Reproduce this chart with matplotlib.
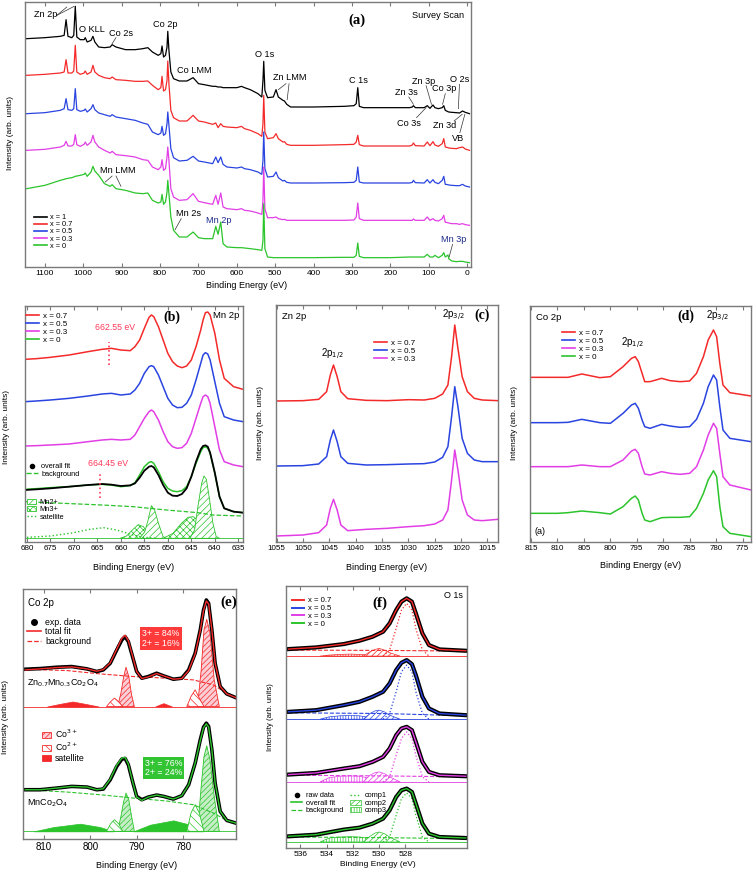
import matplotlib
matplotlib.use("Agg")
import matplotlib.pyplot as plt
from matplotlib.lines import Line2D
from matplotlib.patches import Patch

plt.rcParams["font.family"] = ["Liberation Sans", "DejaVu Sans"]
plt.rcParams["hatch.linewidth"] = 0.5

W, H = 756, 874
RED, BLUE, MAG, GREEN = "#f42a2a", "#2a44e0", "#e23ee6", "#2cc42c"
SPINE = "#7a7a7a"
SERIF = ["Liberation Serif", "DejaVu Serif"]

# ---------------- (a) survey scan ----------------
surv_be = [1148, 1100, 1060, 1050, 1045, 1040, 1030, 1025, 1021, 1017,
           1008, 998, 995, 990, 980, 975, 970, 960, 945, 930,
           925, 915, 890, 865, 845, 832, 820, 805, 798, 795,
           791, 786, 782, 780, 777, 772, 765, 750, 730, 714,
           700, 685, 663, 655, 649, 642, 636, 626, 600, 588,
           580, 565, 545, 535, 532, 530, 527, 520, 505, 498,
           492, 480, 476, 470, 460, 400, 320, 295, 289, 285,
           281, 270, 200, 150, 143, 140, 135, 112, 104, 97,
           89, 84, 75, 65, 61, 57, 50, 48, 40, 28,
           20, 12, 5, -6]
surv_x1 = [685, 688, 692, 695, 742, 692, 688, 695, 782, 690,
           682, 682, 688, 675, 680, 692, 675, 660, 658, 660,
           667, 660, 652, 652, 655, 658, 645, 635, 640, 663,
           630, 635, 660, 707, 650, 585, 565, 558, 558, 568,
           550, 547, 542, 542, 540, 540, 538, 538, 538, 542,
           538, 532, 520, 510, 560, 617, 530, 508, 510, 532,
           510, 500, 498, 488, 480, 480, 482, 484, 490, 538,
           482, 478, 478, 478, 480, 484, 478, 478, 484, 476,
           486, 478, 475, 478, 484, 470, 466, 465, 464, 463,
           462, 468, 464, 460]
surv_x07 = [575, 578, 582, 585, 622, 582, 582, 588, 665, 585,
            578, 582, 588, 578, 585, 605, 585, 575, 568, 565,
            570, 562, 560, 557, 557, 558, 545, 532, 538, 572,
            528, 532, 560, 618, 550, 470, 448, 438, 438, 455,
            438, 435, 428, 432, 418, 430, 422, 420, 418, 422,
            415, 410, 400, 392, 430, 515, 405, 385, 388, 400,
            385, 375, 376, 368, 365, 365, 367, 368, 375, 395,
            367, 363, 363, 363, 366, 372, 364, 363, 375, 364,
            376, 366, 362, 370, 385, 360, 358, 357, 356, 355,
            358, 360, 354, 350]
surv_x05 = [460, 463, 470, 475, 505, 472, 470, 475, 535, 472,
            467, 470, 474, 465, 475, 487, 472, 462, 457, 452,
            457, 450, 445, 440, 432, 428, 405, 397, 402, 422,
            395, 400, 430, 465, 425, 355, 328, 318, 320, 332,
            318, 315, 310, 330, 313, 330, 308, 300, 297, 300,
            295, 292, 285, 278, 320, 405, 295, 270, 272, 285,
            268, 258, 260, 254, 252, 252, 253, 254, 260, 300,
            255, 252, 252, 252, 254, 260, 253, 252, 262, 252,
            262, 254, 250, 260, 272, 248, 247, 246, 245, 244,
            244, 248, 243, 240]
surv_x03 = [350, 353, 360, 365, 377, 363, 363, 368, 397, 367,
            362, 368, 375, 365, 375, 395, 375, 360, 350, 342,
            347, 337, 334, 330, 322, 320, 300, 292, 300, 322,
            290, 295, 330, 360, 320, 235, 210, 200, 202, 220,
            197, 193, 188, 215, 188, 222, 180, 175, 172, 175,
            170, 168, 162, 158, 200, 300, 175, 148, 148, 150,
            145, 142, 143, 140, 140, 140, 140, 141, 150, 192,
            145, 140, 140, 140, 140, 144, 140, 140, 150, 140,
            145, 140, 138, 145, 155, 134, 133, 132, 130, 130,
            128, 130, 127, 125]
surv_x0 = [235, 245, 260, 263, 265, 266, 268, 270, 272, 273,
           275, 278, 282, 272, 285, 302, 288, 275, 250, 242,
           247, 235, 230, 222, 220, 222, 200, 192, 195, 218,
           188, 195, 225, 260, 220, 150, 110, 90, 90, 105,
           88, 85, 85, 122, 98, 135, 70, 60, 58, 58,
           57, 55, 52, 50, 80, 190, 55, 30, 28, 28,
           28, 28, 28, 28, 28, 28, 29, 29, 35, 72,
           32, 28, 28, 30, 30, 30, 30, 30, 38, 30,
           30, 35, 28, 35, 43, 30, 36, 25, 18, 16,
           17, 17, 15, 13]
surv_labels = ["x = 1", "x = 0.7", "x = 0.5", "x = 0.3", "x = 0"]

# peak labels: text, energy, height
surv_annot = [("Zn 2p", 1097, 758), ("O KLL", 978, 712), ("Co 2s", 902, 700),
              ("Co 2p", 787, 727), ("Co LMM", 710, 590), ("O 1s", 527, 637),
              ("Zn LMM", 461, 568), ("C 1s", 284, 560), ("Zn 3s", 159, 524),
              ("Zn 3p", 113, 558), ("Co 3p", 60, 535), ("O 2s", 19, 563),
              ("Co 3s", 151, 430), ("Zn 3d", 58, 424), ("VB", 23, 387),
              ("Mn LMM", 911, 289), ("Mn 2s", 726, 162)]
surv_annot_mn = [("Mn 2p", 648, 140), ("Mn 3p", 34, 83)]
surv_leaders = [((1069, 755), (1043, 780)), ((1069, 755), (1024, 782)),
                ((915, 688), (925, 670)), ((472, 550), (492, 532)),
                ((464, 550), (469, 502)), ((152, 510), (140, 488)),
                ((107, 544), (93, 488)), ((57, 520), (64, 488)),
                ((20, 548), (23, 475)), ((132, 448), (107, 478)),
                ((34, 438), (13, 458)), ((19, 403), (6, 458)),
                ((925, 273), (943, 255)), ((915, 273), (902, 242)),
                ((745, 145), (761, 112)), ((38, 68), (47, 30))]

# ---------------- (b) Mn 2p ----------------
mn_be = [680.4, 678, 675, 671, 667, 664, 662, 660, 658, 657, 656, 655, 654, 653.5, 653,
         652, 651, 650, 649, 648, 647, 646, 645, 644, 643, 642.5, 642, 641.5, 641, 640,
         639, 638, 636, 634]
mn_x07 = [548, 550, 554, 561, 571, 578, 581, 576, 574, 586, 606, 641, 674, 681, 676,
          646, 606, 566, 541, 528, 523, 528, 546, 586, 636, 666, 688, 690, 681, 626,
          546, 491, 466, 458]
mn_x05 = [421, 423, 426, 431, 438, 444, 446, 441, 444, 456, 476, 506, 526, 529, 526,
          501, 466, 431, 411, 403, 404, 416, 441, 486, 536, 561, 568, 564, 546, 481,
          416, 376, 366, 361]
mn_x03 = [288, 289, 291, 294, 301, 306, 308, 306, 308, 321, 346, 371, 391, 396, 391,
          366, 331, 301, 286, 281, 283, 296, 326, 371, 416, 436, 441, 436, 416, 346,
          276, 241, 231, 226]
mn_x0 = [158, 160, 163, 166, 171, 173, 171, 166, 169, 178, 201, 226, 239, 241, 236,
         211, 181, 161, 153, 151, 154, 166, 196, 236, 271, 283, 286, 281, 266, 206,
         136, 101, 91, 88]
mn_fit = [156, 158, 161, 166, 171, 174, 172, 168, 170, 176, 193, 214, 226, 228, 224,
          201, 171, 148, 139, 138, 144, 161, 196, 241, 278, 288, 290, 286, 268, 208,
          136, 101, 91, 88]
mn_bg_be = [680.4, 664, 657.4, 650.3, 643.6, 640.4, 634]
mn_bg = [121, 111, 106, 96, 88, 81, 78]
mn_base = 11
mn2_a_be = [656.0, 654.9, 654.2, 653.5, 652.8, 652.0, 651.0, 650.3]
mn2_a = [11, 31, 66, 109, 96, 56, 16, 11]
mn2_b_be = [645.3, 644.3, 643.6, 642.8, 642.3, 641.8, 641.1, 640.4, 639.7, 639.0]
mn2_b = [11, 36, 106, 176, 198, 188, 126, 56, 16, 11]
mn3_a_be = [660.2, 658.8, 657.4, 656.3, 655.2, 654.2, 653.1]
mn3_a = [11, 18, 38, 52, 46, 26, 11]
mn3_b_be = [651.0, 648.9, 647.1, 645.7, 644.6, 643.2, 641.8, 640.4, 639.3]
mn3_b = [11, 26, 56, 74, 76, 61, 36, 16, 11]
mn_sat_be = [680, 675, 670, 666.6, 663.7, 660.9, 657.4, 655.2, 652.4]
mn_sat = [14, 18, 28, 38, 43, 36, 21, 14, 11]

# ---------------- (c) Zn 2p ----------------
zn_be = [1055.1, 1050, 1047, 1045.5, 1044.8, 1044.2, 1043.5, 1042.8, 1041.5, 1038,
         1034, 1030, 1027, 1025, 1023.5, 1022.5, 1021.8, 1021.2, 1020.6, 1019.8,
         1018.8, 1017.5, 1016, 1013]
zn_x07 = [423, 424, 428, 451, 501, 531, 496, 451, 430, 425, 424, 427, 426, 431, 444,
          471, 556, 651, 581, 496, 451, 431, 426, 424]
zn_x05 = [228, 229, 234, 256, 306, 336, 301, 256, 236, 231, 232, 234, 235, 240, 254,
          286, 376, 466, 406, 311, 266, 246, 241, 241]
zn_x03 = [18, 21, 28, 51, 101, 128, 96, 51, 34, 38, 41, 46, 49, 54, 66, 96, 186, 276,
          216, 126, 81, 66, 64, 68]

# ---------------- (d) Co 2p ----------------
co_be = [815.2, 810, 808, 805.4, 802, 800, 797.6, 796, 795.3, 794.7, 794, 793.5, 792.5,
         790.3, 788.7, 786.8, 785, 783.7, 782.4, 781.5, 780.5, 779.9, 779.3, 778.7,
         777.4, 773.4]
co_x07 = [494, 494, 494, 504, 493, 496, 526, 551, 556, 541, 506, 481, 481, 491, 484,
          481, 483, 506, 556, 606, 636, 616, 536, 471, 448, 438]
co_x05 = [358, 358, 359, 368, 358, 356, 386, 411, 416, 401, 366, 346, 341, 353, 348,
          344, 346, 368, 416, 466, 501, 486, 406, 336, 311, 301]
co_x03 = [226, 226, 226, 231, 226, 226, 246, 273, 278, 266, 226, 204, 201, 211, 206,
          203, 206, 226, 276, 321, 356, 341, 266, 196, 171, 156]
co_x0 = [86, 86, 88, 93, 88, 84, 106, 131, 138, 126, 86, 66, 61, 73, 74, 74, 76, 101,
         146, 186, 214, 196, 106, 46, 26, 16]

# ---------------- (e) Co 2p fits ----------------
fit_be = [814.0, 810.8, 807.2, 804.0, 800.7, 798.6, 797.2, 795.7, 794.3, 793.2, 792.5,
          791.8, 790.8, 790.0, 788.9, 787.5, 785.7, 784.2, 782.1, 780.3, 778.8, 777.4,
          776.3, 775.6, 775.0, 774.5, 773.8, 773.1, 772.0, 770.6, 768.7]
zmc_data = [510, 512, 516, 518, 511, 503, 508, 528, 568, 598, 608, 593, 543, 503, 483,
            488, 498, 490, 480, 483, 508, 558, 628, 688, 718, 708, 628, 528, 458, 436, 425]
zmc_fit = [508, 511, 515, 517, 511, 504, 509, 529, 570, 603, 612, 596, 545, 503, 482,
           487, 497, 490, 480, 482, 506, 556, 626, 686, 715, 706, 628, 528, 458, 436, 425]
mc_data = [148, 148, 153, 158, 156, 148, 150, 178, 218, 240, 242, 223, 168, 128, 118,
           126, 132, 128, 120, 130, 163, 228, 298, 336, 348, 338, 268, 168, 83, 56, 48]
mc_fit = [148, 148, 153, 158, 156, 148, 151, 180, 222, 243, 245, 225, 168, 126, 116,
          126, 132, 128, 120, 130, 163, 228, 296, 334, 346, 336, 268, 168, 83, 56, 48]
fit_bg_be = [814.0, 805.0, 797.9, 790.7, 783.5, 777.8, 773.5, 770.6, 768.7]
zmc_bg = [510, 506, 496, 488, 483, 478, 463, 438, 426]
mc_bg = [148, 141, 133, 123, 114, 103, 78, 56, 48]
zmc_base, mc_base = 398, 23
c3a_be = [794.1, 793.4, 792.8, 792.3, 791.7, 791.1, 790.5]
zmc_c3a = [398, 438, 488, 516, 488, 433, 398]
mc_c3a = [23, 68, 113, 138, 118, 68, 23]
c3b_be = [776.9, 776.1, 775.5, 774.9, 774.2, 773.3, 772.2]
zmc_c3b = [398, 508, 628, 660, 618, 478, 398]
mc_c3b = [23, 158, 248, 280, 238, 128, 23]
c2a_be = [796.5, 795.6, 794.8, 793.9, 793.0]
zmc_c2a = [398, 413, 423, 413, 398]
mc_c2a = [23, 46, 58, 46, 23]
c2b_be = [779.2, 778.3, 777.4, 776.5, 775.5]
zmc_c2b = [398, 428, 448, 423, 398]
mc_c2b = [23, 78, 103, 78, 23]
zmc_sat1_be = [809.3, 806.5, 803.8, 801.1, 798.2]
zmc_sat1 = [398, 406, 413, 406, 398]
zmc_sat2_be = [786.0, 785.0, 784.2, 783.5, 782.4]
zmc_sat2 = [398, 404, 408, 404, 398]
mc_sat1_be = [812.2, 807.9, 802.2, 797.9, 795.0]
mc_sat1 = [23, 36, 46, 36, 23]
mc_sat2_be = [790.7, 787.1, 782.1, 778.5, 775.6]
mc_sat2 = [23, 43, 56, 43, 23]

# ---------------- (f) O 1s ----------------
o_be = [536.9, 534.8, 532.7, 531.5, 530.5, 529.7, 529.2, 528.7, 528.3, 527.9, 527.5,
        527.2, 526.7, 526.2, 525.4, 523.4]
o_x07 = [596, 601, 611, 621, 633, 648, 673, 713, 738, 748, 738, 703, 643, 608, 595, 591]
o_x05 = [408, 413, 428, 438, 453, 468, 493, 533, 555, 563, 551, 518, 453, 418, 403, 398]
o_x03 = [220, 225, 238, 245, 258, 273, 298, 338, 358, 363, 353, 318, 258, 228, 218, 215]
o_x0 = [35, 40, 55, 61, 73, 88, 113, 153, 173, 178, 168, 133, 73, 43, 33, 30]
o_bg_be = [536.9, 529.7, 523.4]
o_bg = {"0.7": [593, 592, 590], "0.5": [405, 403, 396], "0.3": [218, 216, 213], "0": [33, 31, 28]}
o_base = {"0.7": 575, "0.5": 386, "0.3": 198, "0": 18}
o_c1_be = [529.7, 529.2, 528.7, 528.3, 527.9, 527.5, 527.2, 526.7, 526.2]
o_c1 = {"0.7": [575, 593, 658, 713, 733, 713, 658, 593, 575],
        "0.5": [386, 403, 468, 528, 548, 528, 468, 403, 386],
        "0.3": [198, 213, 278, 328, 348, 328, 278, 213, 198],
        "0": [18, 33, 98, 148, 165, 148, 98, 33, 18]}
o_c2_be = [531.2, 530.7, 530.3, 530.0, 529.6, 529.2, 528.4]
o_c2 = {"0.7": [575, 588, 595, 598, 593, 585, 575],
        "0.5": [386, 403, 411, 413, 408, 398, 386],
        "0.3": [198, 218, 226, 228, 223, 213, 198],
        "0": [18, 35, 45, 48, 43, 33, 18]}
o_c3_be = [534.5, 533.8, 533.0, 532.2, 531.5, 530.7, 530.1]
o_c3 = {"0.7": [575, 578, 580, 581, 580, 578, 575],
        "0.5": [386, 393, 396, 397, 396, 391, 386],
        "0.3": [198, 211, 215, 216, 215, 209, 198],
        "0": [18, 30, 33, 34, 33, 28, 18]}

fig = plt.figure(figsize=(W / 100, H / 100), dpi=100)


def panel(box, xlim, ylim, xticks, size=6):
    l, r, t, b = box
    ax = fig.add_axes([l / W, 1 - b / H, (r - l) / W, (b - t) / H])
    ax.set_xlim(xlim)
    ax.set_ylim(ylim)
    ax.set_xticks(xticks)
    ax.set_yticks([])
    ax.tick_params(axis="x", direction="in", top=True, length=3, width=0.8,
                   color=SPINE, labelsize=size, pad=2)
    for s in ax.spines.values():
        s.set_color(SPINE)
        s.set_linewidth(1.0)
    return ax


def ftext(x, y, s, **kw):
    fig.text(x / W, 1 - y / H, s, **kw)


def leg(handles, labels, x, y, size=6, **kw):
    opts = dict(loc="upper left", bbox_to_anchor=(x / W, 1 - y / H), frameon=False,
                borderpad=0, borderaxespad=0, fontsize=size, handlelength=1.6,
                handletextpad=0.5, labelspacing=0.05)
    opts.update(kw)
    fig.legend(handles, labels, **opts)


def axis_labels(xc, yx, ylx, yly, size=6.5):
    ftext(xc, yx, "Binding Energy (eV)", ha="center", va="center", fontsize=size)
    ftext(ylx, yly, "Intensity (arb. units)", ha="center", va="center",
          rotation=90, fontsize=size - 0.5)


# ---- (a)
ax = panel((25, 471, 2, 267), (1152, -10), (0, 795), list(range(1100, -1, -100)))
cols5 = ["black", RED, BLUE, MAG, GREEN]
for ys, c in zip([surv_x1, surv_x07, surv_x05, surv_x03, surv_x0], cols5):
    ax.plot(surv_be, ys, color=c, lw=0.9)
for s, e, h in surv_annot:
    ax.text(e, h, s, fontsize=6.6, ha="center", va="center")
for s, e, h in surv_annot_mn:
    ax.text(e, h, s, fontsize=6.6, ha="center", va="center", color="#1b2a8a")
for (e1, h1), (e2, h2) in surv_leaders:
    ax.plot([e1, e2], [h1, h2], color="#333333", lw=0.5)
ax.text(0.745, 0.93, "(a)", transform=ax.transAxes, fontsize=10.5, fontweight="bold",
        family=SERIF, ha="center", va="center")
ax.text(0.985, 0.95, "Survey Scan", transform=ax.transAxes, fontsize=6.6,
        ha="right", va="center")
leg([Line2D([], [], color=c, lw=1.2) for c in cols5], surv_labels, 34, 214, size=5.3,
    handlelength=1.7, labelspacing=0.0)
axis_labels(247, 286, 11, 133)

# ---- (b)
ax = panel((25, 243, 306, 542), (680.4, 634), (0, 708), list(range(680, 634, -5)), size=5.8)
ax.axhline(mn_base, color=GREEN, lw=0.6)
ax.fill_between(mn3_a_be, mn_base, mn3_a, facecolor="white", edgecolor=GREEN, hatch="xxxxx", lw=0.6)
ax.fill_between(mn3_b_be, mn_base, mn3_b, facecolor="white", edgecolor=GREEN, hatch="xxxxx", lw=0.6)
ax.fill_between(mn2_a_be, mn_base, mn2_a, facecolor="white", edgecolor=GREEN, hatch="/////", lw=0.6)
ax.fill_between(mn2_b_be, mn_base, mn2_b, facecolor="white", edgecolor=GREEN, hatch="/////", lw=0.6)
ax.plot(mn_sat_be, mn_sat, color=GREEN, ls=":", lw=1.0)
ax.plot(mn_bg_be, mn_bg, color=GREEN, ls="--", lw=0.9)
for ys, c in zip([mn_x07, mn_x05, mn_x03, mn_x0], [RED, BLUE, MAG, GREEN]):
    ax.plot(mn_be, ys, color=c, lw=1.1)
ax.plot(mn_be, mn_fit, color="black", lw=1.3)
ax.plot([662.55, 662.55], [530, 600], color="#ff3a5a", ls=":", lw=1.2)
ax.plot([664.45, 664.45], [131, 206], color="#ff3a5a", ls=":", lw=1.2)
ax.text(661.2, 644, "662.55 eV", color="#ff3a5a", fontsize=6.3, ha="center", va="center")
ax.text(662.7, 234, "664.45 eV", color="#ff3a5a", fontsize=6.3, ha="center", va="center")
ax.text(0.985, 0.958, "Mn 2p", transform=ax.transAxes, fontsize=6.8, ha="right", va="center")
ax.text(0.674, 0.953, "(b)", transform=ax.transAxes, fontsize=10, fontweight="bold",
        family=SERIF, ha="center", va="center")
leg([Line2D([], [], color=c, lw=1.2) for c in [RED, BLUE, MAG, GREEN]],
    ["x = 0.7", "x = 0.5", "x = 0.3", "x = 0"], 26, 312, size=5.8)
leg([Line2D([], [], color="black", marker="o", ls="none", ms=3),
     Line2D([], [], color=GREEN, ls="--", lw=1)], ["overall fit", "background"], 26, 463, size=5.3)
leg([Patch(facecolor="white", edgecolor=GREEN, hatch="/////", lw=0.6),
     Patch(facecolor="white", edgecolor=GREEN, hatch="xxxxx", lw=0.6),
     Line2D([], [], color=GREEN, ls=":", lw=1)], ["Mn2+", "Mn3+", "satellite"], 27, 499,
    size=5.3, handlelength=1.2, handleheight=0.6)
axis_labels(134, 567, 7, 427)

# ---- (c)
ax = panel((276, 498, 305, 542), (1055.1, 1013), (0, 711), list(range(1055, 1014, -5)), size=5.8)
for ys, c in zip([zn_x07, zn_x05, zn_x03], [RED, BLUE, MAG]):
    ax.plot(zn_be, ys, color=c, lw=1.1)
ax.text(0.025, 0.95, "Zn 2p", transform=ax.transAxes, fontsize=6.8, ha="left", va="center")
ax.text(0.93, 0.955, "(c)", transform=ax.transAxes, fontsize=10, fontweight="bold",
        family=SERIF, ha="center", va="center")
ax.text(0.80, 0.955, "2p$_{3/2}$", transform=ax.transAxes, fontsize=7, ha="center", va="center")
ax.text(0.255, 0.79, "2p$_{1/2}$", transform=ax.transAxes, fontsize=7, ha="center", va="center")
leg([Line2D([], [], color=c, lw=1.2) for c in [RED, BLUE, MAG]],
    ["x = 0.7", "x = 0.5", "x = 0.3"], 374, 339, size=5.8)
axis_labels(387, 567, 261, 423)

# ---- (d)
ax = panel((530, 751, 306, 542), (815.2, 773.4), (0, 708), list(range(815, 774, -5)), size=5.8)
for ys, c in zip([co_x07, co_x05, co_x03, co_x0], [RED, BLUE, MAG, GREEN]):
    ax.plot(co_be, ys, color=c, lw=1.1)
ax.text(0.025, 0.95, "Co 2p", transform=ax.transAxes, fontsize=6.8, ha="left", va="center")
ax.text(0.706, 0.955, "(d)", transform=ax.transAxes, fontsize=10, fontweight="bold",
        family=SERIF, ha="center", va="center")
ax.text(0.85, 0.955, "2p$_{3/2}$", transform=ax.transAxes, fontsize=7, ha="center", va="center")
ax.text(0.465, 0.84, "2p$_{1/2}$", transform=ax.transAxes, fontsize=7, ha="center", va="center")
ax.text(0.02, 0.045, "(a)", transform=ax.transAxes, fontsize=6.5, ha="left", va="center")
leg([Line2D([], [], color=c, lw=1.2) for c in [RED, BLUE, MAG, GREEN]],
    ["x = 0.7", "x = 0.5", "x = 0.3", "x = 0"], 562, 329, size=5.8)
axis_labels(641, 566, 515, 423)

# ---- (e)
ax = panel((23, 236, 589, 839), (814.5, 768.6), (0, 751), [810, 800, 790, 780], size=7)
sets = [(zmc_data, zmc_fit, zmc_bg, zmc_base, zmc_c3a, zmc_c3b, zmc_c2a, zmc_c2b,
         (zmc_sat1_be, zmc_sat1), (zmc_sat2_be, zmc_sat2), RED, "#fbcdd4"),
        (mc_data, mc_fit, mc_bg, mc_base, mc_c3a, mc_c3b, mc_c2a, mc_c2b,
         (mc_sat1_be, mc_sat1), (mc_sat2_be, mc_sat2), GREEN, "#c6eec6")]
for data, fit, bg, base, c3a, c3b, c2a, c2b, s1, s2, c, light in sets:
    ax.axhline(base, color=c, lw=0.6)
    for sbe, sy in (s1, s2):
        ax.fill_between(sbe, base, sy, facecolor=c, edgecolor=c, lw=0.5)
    for cb, cy in ((c3a_be, c3a), (c3b_be, c3b)):
        ax.fill_between(cb, base, cy, facecolor=light, edgecolor=c, hatch="//////", lw=0.6)
    for cb, cy in ((c2a_be, c2a), (c2b_be, c2b)):
        ax.fill_between(cb, base, cy, facecolor="white", edgecolor=c, hatch="\\\\\\\\", lw=0.6)
    ax.plot(fit_bg_be, bg, color=c, ls="--", lw=0.8)
    ax.plot(fit_be, data, color="black", lw=2.6)
    ax.plot(fit_be, fit, color=c, lw=1.0)
ax.text(0.023, 0.944, "Co 2p", transform=ax.transAxes, fontsize=7, ha="left", va="center")
ax.text(0.965, 0.948, "(e)", transform=ax.transAxes, fontsize=11, fontweight="bold",
        family=SERIF, ha="center", va="center")
ax.text(0.02, 0.624, "Zn$_{0.7}$Mn$_{0.3}$Co$_2$O$_4$", transform=ax.transAxes,
        fontsize=6.5, ha="left", va="center")
ax.text(0.02, 0.144, "MnCo$_2$O$_4$", transform=ax.transAxes, fontsize=6.5,
        ha="left", va="center")
ax.text(0.648, 0.802, "3+ = 84%\n2+ = 16%", transform=ax.transAxes, fontsize=6.3,
        color="white", ha="center", va="center", linespacing=1.0,
        bbox=dict(facecolor="#ff3a3a", edgecolor="none", pad=1.5))
ax.text(0.66, 0.284, "3+ = 76%\n2+ = 24%", transform=ax.transAxes, fontsize=6.3,
        color="white", ha="center", va="center", linespacing=1.0,
        bbox=dict(facecolor="#33c433", edgecolor="none", pad=1.5))
leg([Line2D([], [], color="black", marker="o", ls="none", ms=4),
     Line2D([], [], color=RED, lw=1.2), Line2D([], [], color=RED, ls="--", lw=0.9)],
    ["exp. data", "total fit", "background"], 27, 618, size=6.3)
leg([Patch(facecolor="#fbcdd4", edgecolor=RED, hatch="//////", lw=0.6),
     Patch(facecolor="white", edgecolor=RED, hatch="\\\\\\\\", lw=0.6),
     Patch(facecolor=RED, edgecolor=RED, lw=0.6)], ["Co$^{3+}$", "Co$^{2+}$", "satellite"],
    42, 728, size=6.3, handlelength=1.0, handleheight=0.7)
axis_labels(137, 865, 6, 717)

# ---- (f)
ax = panel((286, 467, 586, 848), (537.1, 523.3), (0, 785), [536, 534, 532, 530, 528], size=6)
for key, data, c in [("0.7", o_x07, RED), ("0.5", o_x05, BLUE), ("0.3", o_x03, MAG), ("0", o_x0, GREEN)]:
    base = o_base[key]
    ax.axhline(base, color=c, lw=0.6)
    ax.fill_between(o_c3_be, base, o_c3[key], facecolor="white", edgecolor=c, hatch="||||||", lw=0.5)
    ax.fill_between(o_c2_be, base, o_c2[key], facecolor="white", edgecolor=c, hatch="//////", lw=0.5)
    ax.plot(o_c1_be, o_c1[key], color=c, ls=":", lw=0.9)
    ax.plot(o_bg_be, o_bg[key], color=c, ls="--", lw=0.8)
    ax.plot(o_be, data, color="black", lw=3.0)
    ax.plot(o_be, data, color=c, lw=1.0)
ax.text(0.519, 0.935, "(f)", transform=ax.transAxes, fontsize=11, fontweight="bold",
        family=SERIF, ha="center", va="center")
ax.text(0.975, 0.962, "O 1s", transform=ax.transAxes, fontsize=6.5, ha="right", va="center")
leg([Line2D([], [], color=c, lw=1.4) for c in [RED, BLUE, MAG, GREEN]],
    ["x = 0.7", "x = 0.5", "x = 0.3", "x = 0"], 292, 597, size=5.6)
leg([Line2D([], [], color="black", marker="o", ls="none", ms=3),
     Line2D([], [], color=GREEN, lw=1.2), Line2D([], [], color=GREEN, ls="--", lw=0.9),
     Line2D([], [], color=GREEN, ls=":", lw=1.0),
     Patch(facecolor="white", edgecolor=GREEN, hatch="//////", lw=0.5),
     Patch(facecolor="white", edgecolor=GREEN, hatch="||||||", lw=0.5)],
    ["raw data", "overall fit", "background", "comp1", "comp2", "comp3"], 291, 792,
    size=5.3, ncol=2, columnspacing=0.8, handlelength=1.5)
axis_labels(378, 865, 270, 717, size=6)

fig.savefig("out.png", dpi=100)
